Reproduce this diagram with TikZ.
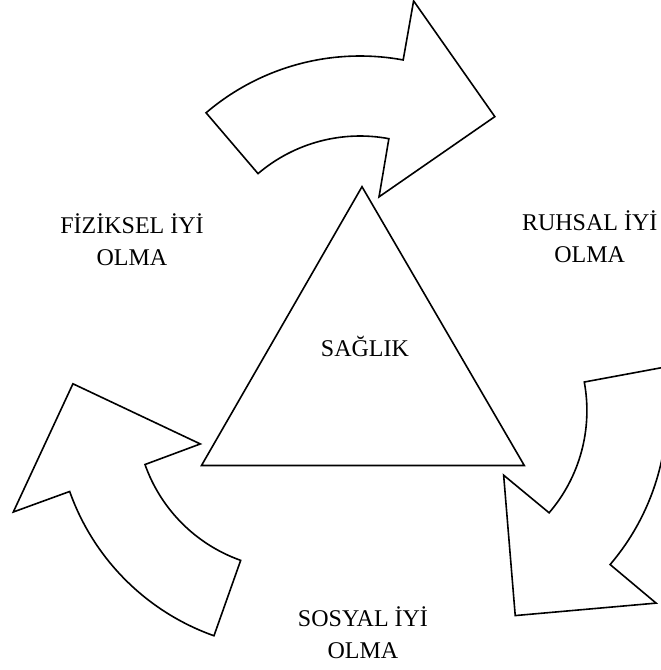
\documentclass[tikz,border=0pt]{standalone}
\usepackage{fontspec}
\setmainfont{Liberation Serif}
\usepackage{tikz}

\begin{document}
\begin{tikzpicture}[x=1pt,y=1pt,
  outline/.style={draw=black,line width=1.6pt,fill=white},
  txt/.style={font=\fontsize{24}{31.8}\selectfont,align=center,inner sep=0pt}]
\useasboundingbox (-361,-298) rectangle (300,372);
\clip (-361,-298) rectangle (300,372);
%%%TRIANGLE
\coordinate (apex) at (1,185.3);
\coordinate (baseL) at (-159.5,-93.5);
\coordinate (baseR) at (163.3,-93.5);
\draw[outline] (apex) -- (baseL) -- (baseR) -- cycle;
%%%CURVED ARROWS
\foreach \r in {0,-120,-240}{
\begin{scope}[rotate=\r,shift={(-1,79)}]
\draw[outline] (130.5:237) arc[start angle=130.5,end angle=79.5,radius=237]
  -- (79.6:297) -- (52.6:222) -- (78.8:98) -- (79.4:157)
  arc[start angle=79.4,end angle=130.5,radius=157] -- cycle;
\end{scope}
}
%%%LABELS (base = baseline of the second line)
\node[txt,anchor=base] (saglik) at (4,16) {SAĞLIK};
\node[txt,anchor=base] (fiziksel) at (-229,106.5) {FİZİKSEL İYİ\\OLMA};
\node[txt,anchor=base] (ruhsal) at (228.7,110) {RUHSAL İYİ\\OLMA};
\node[txt,anchor=base] (sosyal) at (2,-286.5) {SOSYAL İYİ\\OLMA};
\end{tikzpicture}
\end{document}
